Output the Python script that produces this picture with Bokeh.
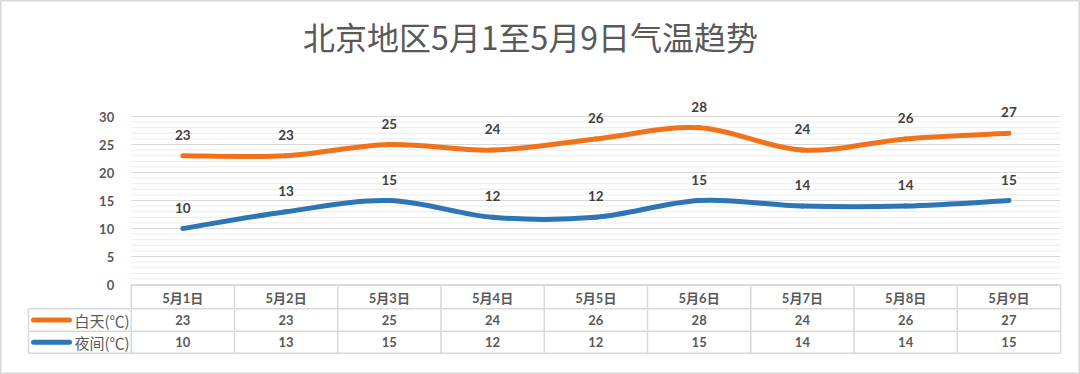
from bokeh.plotting import figure
from bokeh.models import Range1d, FixedTicker
from bokeh.core.properties import value
from bokeh.embed import file_html
from bokeh.resources import INLINE

# ---------------- data ----------------
dates = ["5月1日", "5月2日", "5月3日", "5月4日", "5月5日", "5月6日", "5月7日", "5月8日", "5月9日"]
day_temps = [23, 23, 25, 24, 26, 28, 24, 26, 27]
night_temps = [10, 13, 15, 12, 12, 15, 14, 14, 15]
series_names = ["白天(℃)", "夜间(℃)"]
y_ticks = [0, 5, 10, 15, 20, 25, 30]
title_text = "北京地区5月1至5月9日气温趋势"

# ---------------- layout helpers (pixel -> data) ----------------
W, H = 1080, 374
X0PIX, CELL = 130.7, 103.26     # left edge of plot area, px per category
Y0PIX, UNIT = 284.0, 5.6        # pixel of value 0, px per degree


def dx(px):
    return (px - X0PIX) / CELL - 0.5


def dy(py):
    return (Y0PIX - py) / UNIT


ORANGE = "#F0731C"
BLUE = "#2E75B6"
GRID_MAJOR = "#d9d9d9"
GRID_MINOR = "#ececec"
TXT = "#595959"
NUM_FONT = "Lato, 'Noto Sans CJK SC', sans-serif"
CJK_FONT = "'Noto Sans CJK SC', sans-serif"

p = figure(width=W, height=H,
           x_range=Range1d(dx(0), dx(W)), y_range=Range1d(dy(H), dy(0)),
           output_backend="svg", toolbar_location=None, min_border=0)
p.background_fill_color = "white"
p.border_fill_color = "white"
p.outline_line_color = "#d9d9d9"
p.outline_line_width = 2
p.xgrid.visible = False
p.ygrid.visible = False

# ---------------- y axis (inside frame) ----------------
yax = p.yaxis[0]
yax.fixed_location = -0.5
yax.ticker = FixedTicker(ticks=y_ticks)
yax.axis_line_color = None
yax.major_tick_line_color = None
yax.minor_tick_line_color = None
yax.major_label_standoff = 11
yax.major_label_text_font = NUM_FONT
yax.major_label_text_font_size = "13px"
yax.major_label_text_font_style = "bold"
yax.major_label_text_color = TXT

# ---------------- x axis as table header ----------------
xax = p.xaxis[0]
xax.fixed_location = dy(280)
xax.ticker = FixedTicker(ticks=list(range(len(dates))))
xax.major_label_overrides = {i: d for i, d in enumerate(dates)}
xax.axis_line_color = None
xax.major_tick_line_color = None
xax.minor_tick_line_color = None
xax.major_label_standoff = 3
xax.major_label_text_font = NUM_FONT
xax.major_label_text_font_size = "13px"
xax.major_label_text_font_style = "bold"
xax.major_label_text_color = TXT

n = len(dates)
xl, xr = -0.5, n - 0.5

# ---------------- gridlines ----------------
minor = [v for v in range(y_ticks[0], y_ticks[-1] + 1) if v not in y_ticks]
p.segment(x0=[xl] * len(minor), x1=[xr] * len(minor), y0=minor, y1=minor,
          line_color=GRID_MINOR, line_width=1)
p.segment(x0=[xl] * len(y_ticks), x1=[xr] * len(y_ticks), y0=y_ticks, y1=y_ticks,
          line_color=GRID_MAJOR, line_width=1)


# ---------------- smoothed lines (Excel-style bezier) ----------------
def bez(vals):
    pts = list(zip(range(len(vals)), vals))
    ext = [pts[0]] + pts + [pts[-1]]
    out = {k: [] for k in ["x0", "y0", "x1", "y1", "cx0", "cy0", "cx1", "cy1"]}
    for i in range(len(pts) - 1):
        a, b, c, d = ext[i], ext[i + 1], ext[i + 2], ext[i + 3]
        out["x0"].append(b[0]); out["y0"].append(b[1])
        out["x1"].append(c[0]); out["y1"].append(c[1])
        out["cx0"].append(b[0] + (c[0] - a[0]) / 6); out["cy0"].append(b[1] + (c[1] - a[1]) / 6)
        out["cx1"].append(c[0] - (d[0] - b[0]) / 6); out["cy1"].append(c[1] - (d[1] - b[1]) / 6)
    return out


for vals, col in [(day_temps, ORANGE), (night_temps, BLUE)]:
    p.bezier(**bez(vals), line_color=col, line_width=5, line_cap="round")
    p.text(x=list(range(n)), y=vals, text=[str(v) for v in vals], y_offset=-21,
           text_align="center", text_baseline="middle", text_color="#404040",
           text_font=value(NUM_FONT), text_font_size="13.5px", text_font_style="bold")

# ---------------- data table ----------------
T_TOP, R1, R2, T_BOT = 284.7, 308.3, 330.7, 352.7
LEG_L = 28.0
tl = dx(LEG_L)
# horizontal lines
p.segment(x0=[xl, tl, tl, tl], x1=[xr] * 4,
          y0=[dy(T_TOP), dy(R1), dy(R2), dy(T_BOT)], y1=[dy(T_TOP), dy(R1), dy(R2), dy(T_BOT)],
          line_color=GRID_MAJOR, line_width=1.5)
# vertical lines
vx = [xl + i for i in range(n + 1)]
p.segment(x0=vx, x1=vx, y0=[dy(T_TOP)] * len(vx), y1=[dy(T_BOT)] * len(vx),
          line_color=GRID_MAJOR, line_width=1.5)
p.segment(x0=[tl], x1=[tl], y0=[dy(R1)], y1=[dy(T_BOT)], line_color=GRID_MAJOR, line_width=1.5)

row_c = [dy((R1 + R2) / 2), dy((R2 + T_BOT) / 2)]
for vals, yc, name, col in [(day_temps, row_c[0], series_names[0], ORANGE),
                            (night_temps, row_c[1], series_names[1], BLUE)]:
    p.text(x=list(range(n)), y=[yc] * n, text=[str(v) for v in vals],
           text_align="center", text_baseline="middle", text_color=TXT,
           text_font=value(NUM_FONT), text_font_size="13px", text_font_style="bold")
    p.segment(x0=[dx(33)], x1=[dx(69)], y0=[yc], y1=[yc], line_color=col,
              line_width=5, line_cap="round")
    p.text(x=[dx(74)], y=[yc], text=[name], text_align="left", text_baseline="middle",
           text_color=TXT, text_font=value(CJK_FONT), text_font_size="15px")

# ---------------- title ----------------
p.text(x=[dx(530)], y=[dy(35)], text=[title_text], text_align="center",
       text_baseline="middle", text_color=TXT, text_font=value(CJK_FONT),
       text_font_size="32px")

open("out.html", "w").write(file_html(p, INLINE))
